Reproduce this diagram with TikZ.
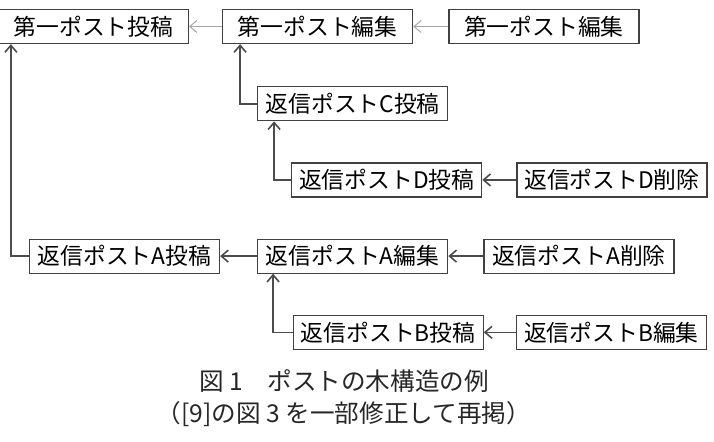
\documentclass[tikz,border=0pt]{standalone}
\usepackage{fontspec}
\setmainfont{Noto Sans CJK JP}
\usepackage{tikz}
\usetikzlibrary{positioning,arrows.meta}

\begin{document}
\begin{tikzpicture}[
  node distance=20.5pt and 17pt,
  post/.style={draw=black!75, line width=0.6pt, minimum width=95pt, minimum height=17pt,
    inner sep=1pt, font=\fontsize{11.4}{13}\selectfont, text=black},
  arr/.style={-{Straight Barb[length=3.5pt,width=6pt]}, draw=black!70, line width=0.8pt},
  lightarr/.style={-{Straight Barb[length=3.5pt,width=6pt]}, draw=black!35, line width=0.5pt},
  captext/.style={font=\fontsize{12.3}{16}\selectfont, align=center, text=black!85}
]
\useasboundingbox (0,0) rectangle (357pt,-220.5pt);

% top row
\node[post] (p1) at (46.75pt,-13.25pt) {第一ポスト投稿};
\node[post, right=16.5pt of p1] (e1) {第一ポスト編集};
\node[post, right=17.5pt of e1] (e2) {第一ポスト編集};

% replies C, D
\node[post, below=21pt of e1, xshift=17.5pt] (cpost) {返信ポストC投稿};
\node[post, below=of cpost, xshift=17pt] (dpost) {返信ポストD投稿};
\node[post, right=of dpost] (ddel) {返信ポストD削除};

% replies A, B
\node[post, below=of dpost, xshift=-17pt] (aedit) {返信ポストA編集};
\node[post, left=18.5pt of aedit] (apost) {返信ポストA投稿};
\node[post, right=17.5pt of aedit] (adel) {返信ポストA削除};
\node[post, below=of aedit, xshift=17.75pt] (bpost) {返信ポストB投稿};
\node[post, right=16pt of bpost] (bedit) {返信ポストB編集};

\node[captext] (caption) at (172pt,-199pt) {図 1　ポストの木構造の例\\（[9]の図 3 を一部修正して再掲）};

\draw[lightarr] (e1) -- (p1);
\draw[lightarr] (e2) -- (e1);
\draw[arr] (cpost.west) -| ([xshift=9pt]e1.south west);
\draw[arr] (dpost.west) -| ([xshift=8.5pt]cpost.south west);
\draw[arr] (ddel) -- (dpost);
\draw[arr] (apost.west) -| ([xshift=6.5pt]p1.south west);
\draw[arr] (aedit) -- (apost);
\draw[arr] (adel) -- (aedit);
\draw[arr] (bpost.west) -| ([xshift=8pt]aedit.south west);
\draw[arr] (bedit) -- (bpost);
\end{tikzpicture}
\end{document}
